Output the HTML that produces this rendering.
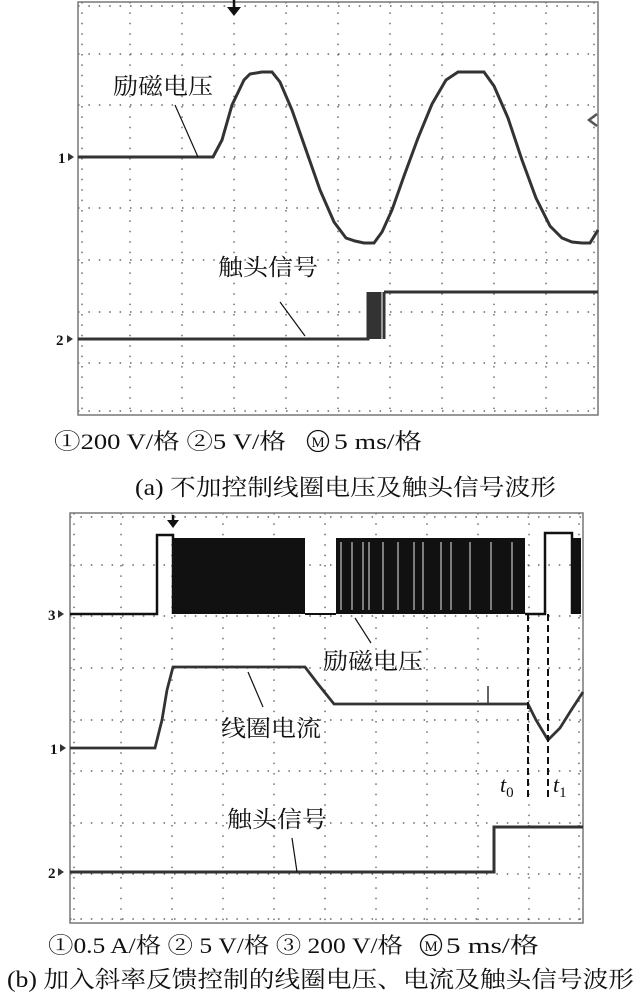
<!DOCTYPE html>
<html><head><meta charset="utf-8"><style>
html,body{margin:0;padding:0;background:#fff;}
svg{display:block}
.t{font-family:"Liberation Serif","Noto Serif CJK SC","Noto Sans CJK SC",serif;fill:#111}
</style></head><body>
<svg width="641" height="1000" viewBox="0 0 641 1000" xmlns="http://www.w3.org/2000/svg">

<!-- Panel A grid -->
<g stroke="#666" stroke-width="1.4" stroke-dasharray="1.5 8.9" fill="none">
<path d="M130 2V415M182 2V415M234 2V415M286 2V415M390 2V415M442 2V415M494 2V415M546 2V415"/>
<path d="M78 54H598M78 105H598M78 157H598M78 260H598M78 312H598M78 363H598"/>
</g>
<g stroke="#444" stroke-width="1.2" stroke-dasharray="1.5 8.9" fill="none">
<path d="M78 208H598M338 2V415"/>
<path d="M82 2V415M594 2V415M78 6H598M78 411H598"/>
</g>
<rect x="78" y="2" width="520" height="413" fill="none" stroke="#777" stroke-width="1.5"/>
<path d="M234 0V8" stroke="#111" stroke-width="2.5"/><path d="M227 7H241L234 16Z" fill="#111"/>
<path d="M597 114L589 120L597 126" fill="none" stroke="#555" stroke-width="2.5"/>
<text x="58" y="163" class="t" font-size="15" font-weight="bold" fill="#333">1</text><path d="M68 153L74 157L68 161Z" fill="#333"/>
<text x="56" y="345" class="t" font-size="15" font-weight="bold" fill="#333">2</text><path d="M67 335L73 339L67 343Z" fill="#333"/>
<path d="M78 157H213L222 140L232 105L244 80L250 74L262 72H272L280 82L292 110L306 150L320 190L334 222L346 238L355 241L364 243H374L382 232L392 210L404 176L418 138L432 104L446 80L458 72H484L494 86L508 118L522 160L536 198L550 226L562 238L572 242L582 243H590L598 230" fill="none" stroke="#333" stroke-width="3"/>
<path d="M78 339H368V292M371 339V292M374 339V292M377 339V292M380 339V292M384 339V292M384 292H598" fill="none" stroke="#333" stroke-width="3"/>
<text x="113" y="94" class="t" font-size="23" textLength="100" lengthAdjust="spacingAndGlyphs">励磁电压</text>
<path d="M175 105L198 157" stroke="#111" stroke-width="1.2"/>
<text x="218" y="275" class="t" font-size="23" textLength="100" lengthAdjust="spacingAndGlyphs">触头信号</text>
<path d="M280 302L305 336" stroke="#111" stroke-width="1.2"/>
<!-- captions A -->
<text x="54" y="449" class="t" font-size="22" textLength="232" lengthAdjust="spacingAndGlyphs">①200 V/格  ②5 V/格</text>
<circle cx="318" cy="441" r="10.5" fill="none" stroke="#111" stroke-width="1.3"/>
<text x="318" y="447" class="t" font-size="15" text-anchor="middle">M</text>
<text x="334" y="449" class="t" font-size="22" textLength="88" lengthAdjust="spacingAndGlyphs">5 ms/格</text>
<text x="135" y="495" class="t" font-size="23" textLength="421" lengthAdjust="spacingAndGlyphs">(a)  不加控制线圈电压及触头信号波形</text>

<!-- Panel B grid -->
<g stroke="#666" stroke-width="1.4" stroke-dasharray="1.5 8.9" fill="none">
<path d="M121 513V923M172 513V923M223 513V923M274 513V923M376 513V923M427 513V923M478 513V923M529 513V923"/>
<path d="M70 565H583M70 616H583M70 668H583M70 771H583M70 823H583M70 874H583"/>
</g>
<g stroke="#444" stroke-width="1.2" stroke-dasharray="1.5 8.9" fill="none">
<path d="M70 720H583M325 513V923M74 513V923M579 513V923M70 517H583M70 919H583"/>
</g>
<rect x="70" y="513" width="513" height="410" fill="none" stroke="#777" stroke-width="1.5"/>
<path d="M173 515V521" stroke="#111" stroke-width="2.5"/><path d="M167 520H179L173 528Z" fill="#111"/>
<text x="48" y="620" class="t" font-size="15" font-weight="bold" fill="#333">3</text><path d="M58 610L64 614L58 618Z" fill="#333"/>
<text x="50" y="754" class="t" font-size="15" font-weight="bold" fill="#333">1</text><path d="M60 744L66 748L60 752Z" fill="#333"/>
<text x="48" y="878" class="t" font-size="15" font-weight="bold" fill="#333">2</text><path d="M58 868L64 872L58 876Z" fill="#333"/>
<path d="M70 614H157V535H173V614" fill="none" stroke="#111" stroke-width="2.5"/>
<rect x="173" y="538" width="132" height="76" fill="#111"/>
<path d="M305 614H336" stroke="#111" stroke-width="2"/>
<rect x="336" y="538" width="189" height="76" fill="#111"/>
<g stroke="#fff" stroke-width="0.9">
<path d="M341 542V610M352 542V610M363 542V610M369 542V610M383 542V610M398 542V610M414 542V610M423 542V610M441 542V610M451 542V610M470 542V610M491 542V610M512 542V610"/>
</g>
<path d="M525 614H545V533H572V614" fill="none" stroke="#111" stroke-width="2.5"/>
<rect x="572" y="538" width="9" height="76" fill="#111"/>
<path d="M70 748H155L162 720L167 690L173 667H305L318 684L334 704H528L536 720L548 740L560 728L570 712L583 692" fill="none" stroke="#333" stroke-width="2.8"/>
<path d="M488 686V704" stroke="#333" stroke-width="1.5"/>
<path d="M528 614V800M548 614V800" stroke="#111" stroke-width="2" stroke-dasharray="7 4"/>
<text x="500" y="792" class="t" font-size="22" font-style="italic">t<tspan font-size="15" dy="5" font-style="normal">0</tspan></text>
<text x="553" y="792" class="t" font-size="22" font-style="italic">t<tspan font-size="15" dy="5" font-style="normal">1</tspan></text>
<path d="M70 872H494V827H583" fill="none" stroke="#333" stroke-width="3"/>
<text x="323" y="669" class="t" font-size="23" textLength="100" lengthAdjust="spacingAndGlyphs">励磁电压</text>
<path d="M355 618L371 643" stroke="#111" stroke-width="1.2"/>
<text x="221" y="736" class="t" font-size="23" textLength="100" lengthAdjust="spacingAndGlyphs">线圈电流</text>
<path d="M248 672L263 707" stroke="#111" stroke-width="1.2"/>
<text x="227" y="827" class="t" font-size="23" textLength="100" lengthAdjust="spacingAndGlyphs">触头信号</text>
<path d="M292 838L297 872" stroke="#111" stroke-width="1.2"/>
<!-- captions B -->
<text x="48" y="953" class="t" font-size="22" textLength="355" lengthAdjust="spacingAndGlyphs">①0.5 A/格 ② 5 V/格 ③ 200 V/格</text>
<circle cx="431" cy="945" r="10.5" fill="none" stroke="#111" stroke-width="1.3"/>
<text x="431" y="951" class="t" font-size="15" text-anchor="middle">M</text>
<text x="446" y="953" class="t" font-size="22" textLength="93" lengthAdjust="spacingAndGlyphs">5 ms/格</text>
<text x="7" y="987" class="t" font-size="23" textLength="627" lengthAdjust="spacingAndGlyphs">(b)  加入斜率反馈控制的线圈电压、电流及触头信号波形</text>
</svg>
</body></html>
